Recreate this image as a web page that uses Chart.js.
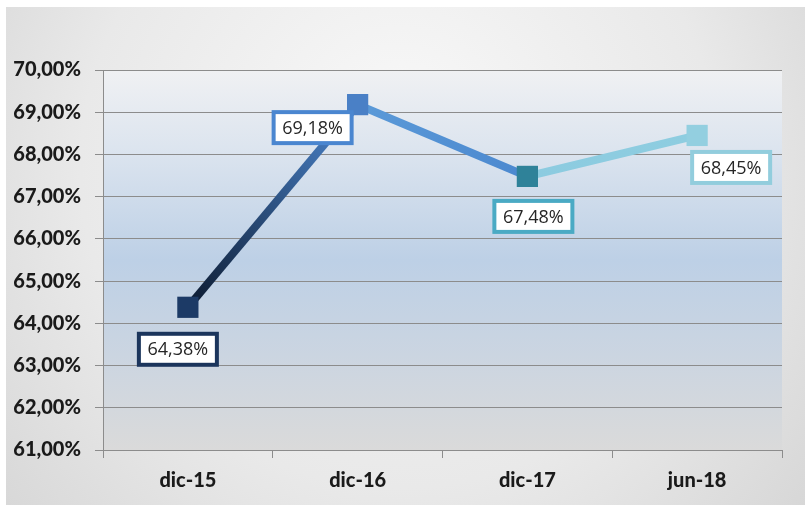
<!DOCTYPE html>
<html>
<head>
<meta charset="utf-8">
<script src="https://cdn.jsdelivr.net/npm/chart.js@4"></script>
<style>
  html, body { margin: 0; padding: 0; background: #fff; }
  #wrap { width: 808px; height: 508px; }
</style>
</head>
<body>
<div id="wrap"><canvas id="c" width="808" height="508"></canvas></div>
<script>
const categories = ["dic-15", "dic-16", "dic-17", "jun-18"];
const values = [64.38, 69.18, 67.48, 68.45];
const yMin = 61, yMax = 70;

// colours per point, label box borders, and the line segment going into the next point
const pointColors = ["#1c3a66", "#4a80c6", "#2f8299", "#93cfe0"];
const labelBorders = ["#1b355c", "#4a86d0", "#4aaac4", "#92cddd"];
const segmentColors = [
  ["#0c1a30", "#4f8ad3"],
  ["#5b9ad8", "#4b88cf"],
  ["#8ccbe0", "#8ecde0"]
];
// label box offsets from the point (px)
const labelOffsets = [[-10, 42], [-45, 23], [6, 40], [34, 32]];

const canvas = document.getElementById("c");
const g = canvas.getContext("2d");

function fmt(v) {
  return v.toFixed(2).replace(".", ",") + "%";
}

const background = {
  id: "background",
  beforeDraw(chart) {
    const c = chart.ctx;
    c.save();
    c.fillStyle = "#ffffff";
    c.fillRect(0, 0, chart.width, chart.height);
    const rg = c.createRadialGradient(400, 120, 20, 400, 200, 520);
    rg.addColorStop(0, "#f7f7f7");
    rg.addColorStop(0.6, "#e9e9e9");
    rg.addColorStop(1, "#d6d6d6");
    c.fillStyle = rg;
    c.fillRect(6, 7, 799, 498);
    const a = chart.chartArea;
    const lg = c.createLinearGradient(0, a.top, 0, a.bottom);
    lg.addColorStop(0, "#f0f1f3");
    lg.addColorStop(0.2, "#dde5ef");
    lg.addColorStop(0.5, "#bdd0e6");
    lg.addColorStop(0.75, "#cbd5e1");
    lg.addColorStop(1, "#dadada");
    c.fillStyle = lg;
    c.fillRect(a.left, a.top, a.right - a.left, a.bottom - a.top);
    c.restore();
  }
};

const pointLabels = {
  id: "pointLabels",
  afterDatasetsDraw(chart) {
    const c = chart.ctx;
    const meta = chart.getDatasetMeta(0);
    c.save();
    c.font = "18px 'Open Sans', sans-serif";
    c.textAlign = "center";
    c.textBaseline = "middle";
    meta.data.forEach((pt, i) => {
      const cx = pt.x + labelOffsets[i][0];
      const cy = pt.y + labelOffsets[i][1];
      const w = 78, h = 31;
      c.fillStyle = "#ffffff";
      c.fillRect(cx - w / 2, cy - h / 2, w, h);
      c.lineWidth = 4;
      c.strokeStyle = labelBorders[i];
      c.strokeRect(cx - w / 2, cy - h / 2, w, h);
      c.fillStyle = "#262626";
      c.fillText(fmt(values[i]), cx, cy + 1);
    });
    c.restore();
  }
};

new Chart(canvas, {
  type: "line",
  data: {
    labels: categories,
    datasets: [{
      data: values,
      borderWidth: 8,
      borderColor: "#4f8ad3",
      segment: {
        borderColor: (s) => {
          const cols = segmentColors[s.p0DataIndex];
          const gr = g.createLinearGradient(s.p0.x, s.p0.y, s.p1.x, s.p1.y);
          gr.addColorStop(0, cols[0]);
          gr.addColorStop(1, cols[1]);
          return gr;
        }
      },
      pointStyle: "rect",
      pointRadius: 15,
      pointHoverRadius: 15,
      pointBorderWidth: 0,
      pointBackgroundColor: pointColors,
      pointBorderColor: pointColors,
      tension: 0
    }]
  },
  options: {
    responsive: false,
    animation: false,
    events: [],
    layout: { padding: { left: 0, top: 70, right: 26, bottom: 0 } },
    plugins: { legend: { display: false }, tooltip: { enabled: false } },
    scales: {
      x: {
        offset: true,
        afterFit: (s) => { s.height = 58; },
        grid: { drawOnChartArea: false, drawTicks: true, tickLength: 8, color: "#8c8c8c", offset: true },
        border: { color: "#8c8c8c", width: 1 },
        ticks: { color: "#1a1a1a", padding: 11, font: { family: "Lato", weight: "900", size: 20 } }
      },
      y: {
        min: yMin,
        max: yMax,
        afterFit: (s) => { s.width = 103; },
        grid: { color: "#8c8c8c", tickLength: 8, lineWidth: 1 },
        border: { color: "#8c8c8c", width: 1 },
        ticks: {
          stepSize: 1,
          color: "#1a1a1a",
          padding: 14,
          font: { family: "Lato", weight: "900", size: 20 },
          callback: (v) => fmt(v)
        }
      }
    }
  },
  plugins: [background, pointLabels]
});
</script>
</body>
</html>
